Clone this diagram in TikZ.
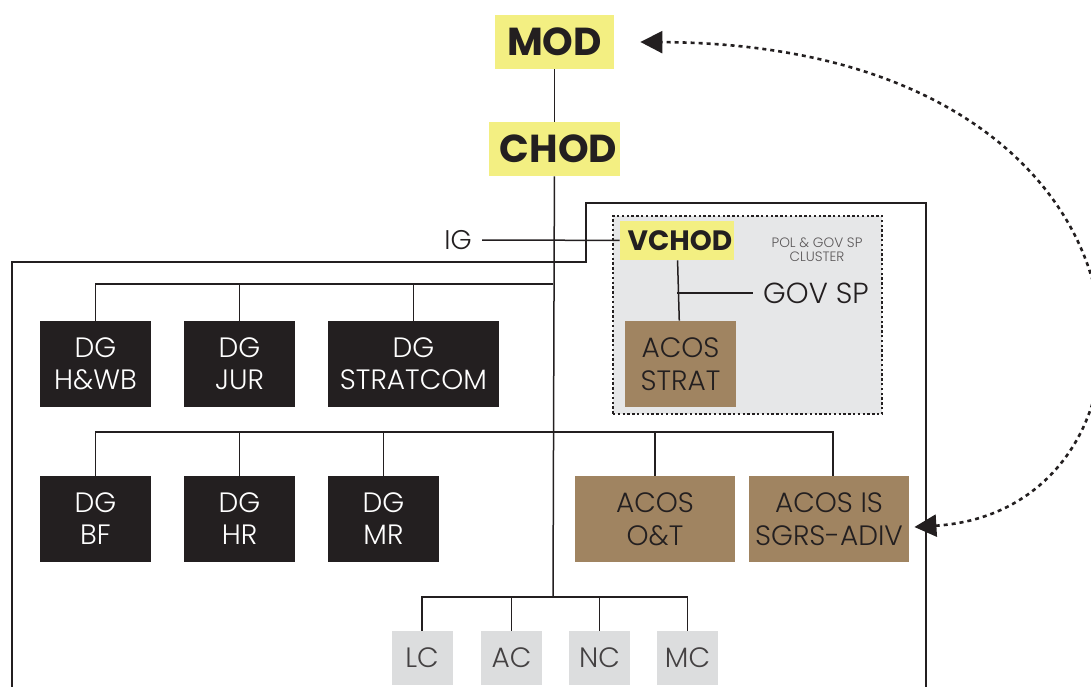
\documentclass[tikz,border=0pt]{standalone}
\usepackage{fontspec}
\setmainfont{Poppins}[UprightFont=* Light, BoldFont=* Bold]
\usetikzlibrary{arrows.meta,positioning}
\definecolor{ink}{HTML}{231F20}
\definecolor{hilite}{HTML}{F3EF82}
\definecolor{bronze}{HTML}{A08461}
\definecolor{mist}{HTML}{E6E7E8}
\definecolor{pebble}{HTML}{DCDDDE}

\begin{document}
\begin{tikzpicture}[x=0.5pt, y=-0.5pt,
  ybox/.style={fill=hilite, text=ink, font=\bfseries\fontsize{19.5}{21}\selectfont,
               inner sep=0pt},
  dgbox/.style={fill=ink, text=white, align=center, inner sep=0pt,
                minimum height=43pt, font=\fontsize{14}{16}\selectfont},
  acbox/.style={fill=bronze, text=ink, align=center, inner sep=0pt,
                minimum height=43pt, font=\fontsize{14}{16.5}\selectfont},
  ccbox/.style={fill=pebble, text=ink!85, inner sep=0pt,
                minimum width=30.5pt, minimum height=27pt,
                font=\fontsize{14}{15}\selectfont},
  lab/.style={text=ink, inner sep=5pt, font=\fontsize{13.5}{15}\selectfont},
  conn/.style={draw=ink, line width=0.75pt},
  loop/.style={draw=ink, line width=1.3pt, dash pattern=on 2pt off 2pt,
               {Triangle[length=11pt, width=11pt]}-{Triangle[length=11pt, width=11pt]}}]
\useasboundingbox (0,0) rectangle (1091,686);

% pol & gov sp cluster
\node[draw=ink, fill=mist, dash pattern=on 1.2pt off 1.2pt, line width=0.6pt,
      minimum width=134.5pt, minimum height=99pt, inner sep=0pt] (cluster) at (747.5,315) {};
\node[text=ink!75, align=center, font=\fontsize{6.8}{7}\selectfont] (clustername) at (817,250)
  {POL \& GOV SP\\CLUSTER};

% top of the chain
\node[ybox, minimum width=59.5pt, minimum height=27pt] (mod) at (554.5,42) {MOD};
\node[ybox, minimum width=65.5pt, minimum height=27pt] (chod) at (554.5,149) {\hspace{4pt}CHOD};
\node[ybox, minimum width=57pt, minimum height=19.5pt,
      font=\bfseries\fontsize{14}{15}\selectfont] (vchod) at (677,240.5) {\hspace{3pt}VCHOD};
\node[lab] (ig) at (458,240) {IG};
\node[lab, font=\fontsize{14.5}{16}\selectfont] (govsp) at (816,293) {GOV SP};
\node[acbox, minimum width=55.5pt] (strat) at (680.5,364) {ACOS\\STRAT};

% directorates
\node[dgbox, minimum width=55.5pt] (hwb) at (95.5,364) {DG\\H\&WB};
\node[dgbox, minimum width=55.5pt] (jur) at (239.5,364) {DG\\JUR};
\node[dgbox, minimum width=85.5pt] (stratcom) at (413.5,364) {DG\\STRATCOM};
\node[dgbox, minimum width=55.5pt] (bf) at (95.5,519) {DG\\BF};
\node[dgbox, minimum width=55.5pt] (hr) at (239.5,519) {DG\\HR};
\node[dgbox, minimum width=55.5pt] (mr) at (383.5,519) {DG\\MR};
\node[acbox, minimum width=80pt] (ot) at (655,519) {ACOS\\O\&T};
\node[acbox, minimum width=80pt] (is) at (829,519) {ACOS IS\\SGRS-ADIV};

% components
\node[ccbox] (lc) at (422,658) {LC};
\node[ccbox] (ac) at (511.5,658) {AC};
\node[ccbox] (nc) at (599.5,658) {NC};
\node[ccbox] (mc) at (687.5,658) {MC};

% bus points on the spine
\coordinate (bus1) at (553,284);
\coordinate (bus2) at (553,432);
\coordinate (bus3) at (553,597);

% outer frame
\draw[conn] (12,700) -- (12,262) -- (586,262) -- (586,203) -- (926,203) -- (926,700);

\draw[conn] (mod) -- (chod);
\draw[conn] (chod) -- (bus3);
\draw[conn] (ig) -- (vchod);
\draw[conn] (vchod) -- (strat);
\draw[conn] (vchod.south |- govsp) -- (govsp);
\draw[conn] (bus1) -| (hwb);
\draw[conn] (bus1) -| (jur);
\draw[conn] (bus1) -| (stratcom);
\draw[conn] (bus2) -| (bf);
\draw[conn] (bus2) -| (hr);
\draw[conn] (bus2) -| (mr);
\draw[conn] (bus2) -| (ot);
\draw[conn] ([xshift=2pt]bus2) -| ([xshift=2pt]is.north);
\draw[conn] (bus3) -| (lc);
\draw[conn] (bus3) -| (ac);
\draw[conn] (bus3) -| (nc);
\draw[conn] (bus3) -| (mc);

% reporting loop
\draw[loop] (is.east) ++(5,8) coordinate (isend)
  (isend) .. controls (1190,510) and (1190,45) .. ([xshift=13pt]mod.east);
\end{tikzpicture}
\end{document}
